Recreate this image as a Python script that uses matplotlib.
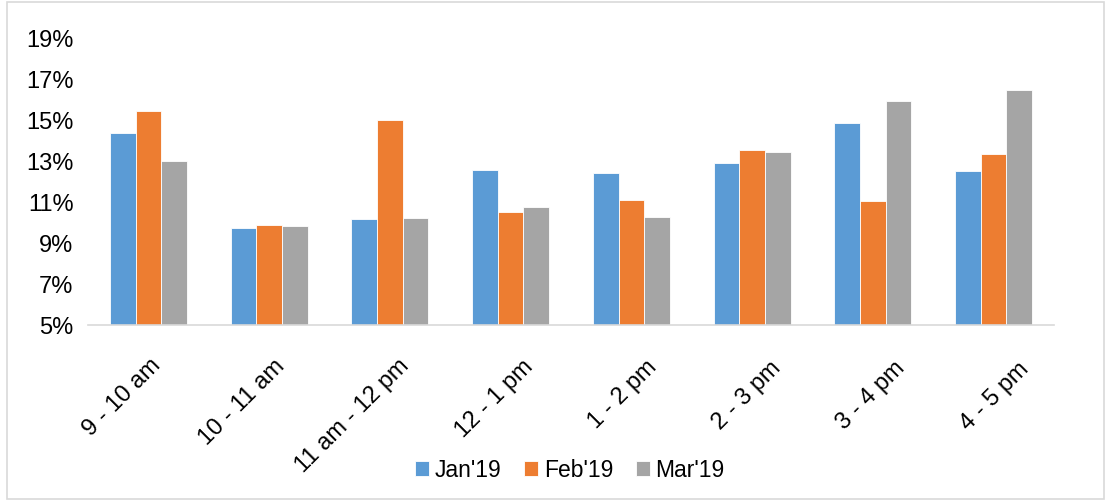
import matplotlib
matplotlib.use("Agg")
import matplotlib.pyplot as plt
from matplotlib.patches import Rectangle
from matplotlib.ticker import FuncFormatter
import matplotlib.transforms as mtransforms
import numpy as np

categories = ["9 - 10 am", "10 - 11 am", "11 am - 12 pm", "12 - 1 pm",
              "1 - 2 pm", "2 - 3 pm", "3 - 4 pm", "4 - 5 pm"]
jan19 = [14.31, 9.72, 10.13, 12.54, 12.41, 12.87, 14.80, 12.50]
feb19 = [15.41, 9.87, 14.97, 10.50, 11.10, 13.52, 11.04, 13.29]
mar19 = [12.95, 9.82, 10.21, 10.75, 10.27, 13.39, 15.90, 16.40]
series_names = ["Jan'19", "Feb'19", "Mar'19"]
colors = ["#5B9BD5", "#ED7D31", "#A5A5A5"]

plt.rcParams['font.family'] = ['Liberation Sans', 'DejaVu Sans']

fig = plt.figure(figsize=(11.11, 5.02), dpi=100)
ax = fig.add_axes([0.0792, 0.3506, 0.8695, 0.5737])

x = np.arange(len(categories))
w = 0.213
for i, (vals, name, c) in enumerate(zip([jan19, feb19, mar19], series_names, colors)):
    ax.bar(x + (i - 1) * w, np.array(vals) - 5, bottom=5, width=w, color=c,
           label=name, edgecolor="white", linewidth=0.6, zorder=2)

ax.set_xlim(-0.5, len(categories) - 0.5)
ax.set_ylim(5, 19)
ax.set_yticks(np.arange(5, 20, 2))
ax.yaxis.set_major_formatter(FuncFormatter(lambda v, p: f"{int(v)}%"))
ax.tick_params(axis='y', length=0, labelsize=17, pad=10.5, labelcolor="#000000")
ax.tick_params(axis='x', length=0, labelsize=17, pad=20.5)
ax.set_xticks(x)
ax.set_xticklabels(categories, rotation=45, ha='right', rotation_mode='anchor')
for i, lab in enumerate(ax.get_xticklabels()):
    off = mtransforms.ScaledTranslation((1 + 3.3 * i) / 100, -(0.5 * i) / 100,
                                        fig.dpi_scale_trans)
    lab.set_transform(lab.get_transform() + off)

for s in ["top", "right", "left"]:
    ax.spines[s].set_visible(False)
ax.spines["bottom"].set_color("#D9D9D9")
ax.spines["bottom"].set_linewidth(1.2)
ax.spines["bottom"].set_zorder(3)

leg = fig.legend(loc="center", bbox_to_anchor=(0.513, 0.062), ncol=3, frameon=False,
                 fontsize=16.5, handlelength=0.6, handleheight=0.6,
                 handletextpad=0.25, columnspacing=1.0)

fig.patches.append(Rectangle((0.006, 0.004), 0.988, 0.99, transform=fig.transFigure,
                             fill=False, edgecolor="#D9D9D9", linewidth=1.2))

fig.savefig("out.png", dpi=100)
